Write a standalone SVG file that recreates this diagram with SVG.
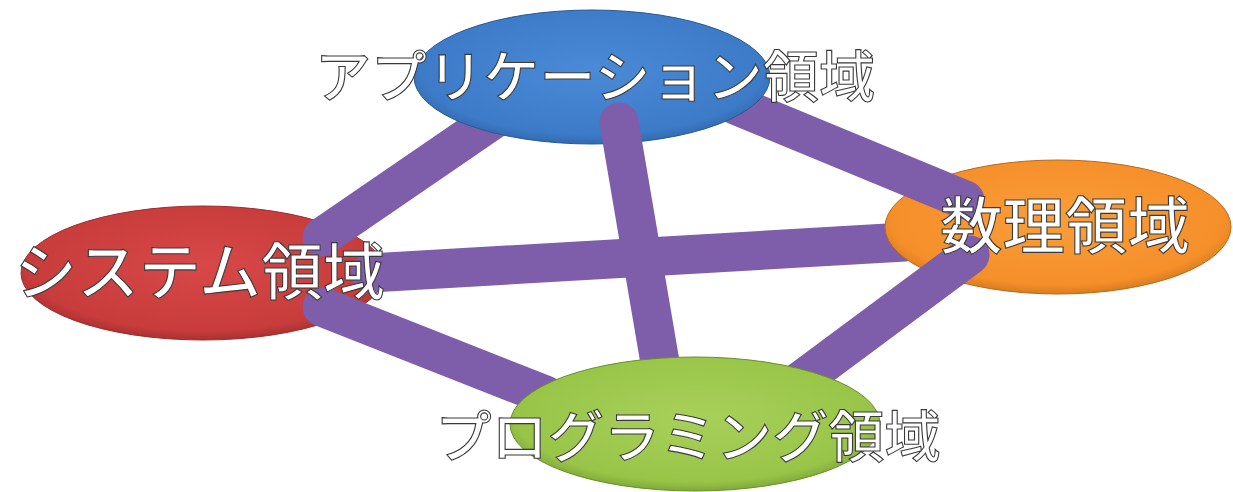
<svg xmlns="http://www.w3.org/2000/svg" width="1233" height="492" viewBox="0 0 1233 492">
<defs>
<radialGradient id="gBlue" cx="0.5" cy="0.45" r="0.6"><stop offset="0" stop-color="#4a8ad6"/><stop offset="0.8" stop-color="#3d7bc8"/><stop offset="1" stop-color="#2a5f9e"/></radialGradient>
<radialGradient id="gRed" cx="0.5" cy="0.45" r="0.6"><stop offset="0" stop-color="#d84848"/><stop offset="0.8" stop-color="#c83c3c"/><stop offset="1" stop-color="#962828"/></radialGradient>
<radialGradient id="gOrange" cx="0.5" cy="0.45" r="0.6"><stop offset="0" stop-color="#fa9e3a"/><stop offset="0.8" stop-color="#f58f2a"/><stop offset="1" stop-color="#c46e18"/></radialGradient>
<radialGradient id="gGreen" cx="0.5" cy="0.45" r="0.6"><stop offset="0" stop-color="#a8d05a"/><stop offset="0.8" stop-color="#98c548"/><stop offset="1" stop-color="#6f9630"/></radialGradient>
</defs>
<style>
.tube{stroke:#7e5daa;stroke-width:39;stroke-linecap:round;fill:none}
.lbl{font-family:"Noto Sans CJK JP","Noto Sans CJK SC",sans-serif;fill:#ffffff;stroke:#3a3a3a;stroke-width:1.1;dominant-baseline:central;text-anchor:middle;font-weight:500}
</style>
<g id="node-system">
<ellipse cx="203" cy="273" rx="182" ry="67" fill="url(#gRed)" stroke="#9a2e2e" stroke-width="1"/>
</g>
<g id="connectors-under">
<line class="tube" x1="370" y1="273" x2="905" y2="242"/>
</g>
<g id="node-math">
<ellipse cx="1058" cy="227" rx="173" ry="67" fill="url(#gOrange)" stroke="#b86a1a" stroke-width="1"/>
</g>
<g id="connectors">
<line class="tube" x1="500" y1="115" x2="322" y2="237"/>
<line class="tube" x1="735" y1="105" x2="965" y2="200"/>
<line class="tube" x1="322" y1="307" x2="545" y2="395"/>
<line class="tube" x1="970" y1="255" x2="795" y2="385"/>
</g>
<g id="node-application">
<ellipse cx="592" cy="77" rx="178" ry="67" fill="url(#gBlue)" stroke="#2a5a94" stroke-width="1"/>
</g>
<g id="connector-app-prog">
<line class="tube" x1="619" y1="122" x2="663" y2="380"/>
</g>
<g id="node-programming">
<ellipse cx="695" cy="424" rx="185" ry="67" fill="url(#gGreen)" stroke="#6a8f2c" stroke-width="1"/>
</g>
<g id="labels">
<text class="lbl" x="595" y="72" font-size="56" textLength="560" lengthAdjust="spacingAndGlyphs">アプリケーション領域</text>
<text class="lbl" x="200" y="268" font-size="62" textLength="370" lengthAdjust="spacingAndGlyphs">システム領域</text>
<text class="lbl" x="1065" y="222" font-size="62" textLength="250" lengthAdjust="spacingAndGlyphs">数理領域</text>
<text class="lbl" x="688" y="432" font-size="56" textLength="505" lengthAdjust="spacingAndGlyphs">プログラミング領域</text>
</g>
</svg>
